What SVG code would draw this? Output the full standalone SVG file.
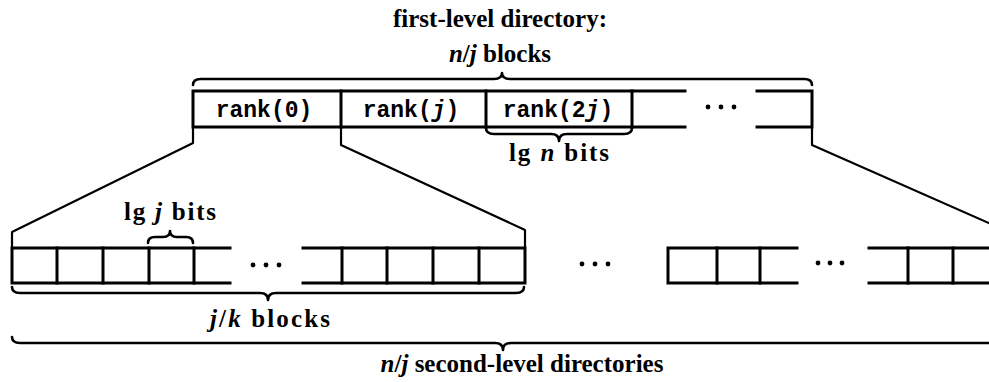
<svg xmlns="http://www.w3.org/2000/svg" width="989" height="382" viewBox="0 0 989 382">
  <style>
    .box { fill: none; stroke: #000; stroke-width: 3; stroke-linecap: square; }
    .brace { fill: none; stroke: #000; stroke-width: 2.6; stroke-linecap: round; stroke-linejoin: round; }
    .link { fill: none; stroke: #000; stroke-width: 2.2; stroke-linejoin: round; }
    .lbl { font-family: "Liberation Serif", "DejaVu Serif", serif; font-weight: bold; font-size: 25px; fill: #000; text-anchor: middle; }
    .tt { font-family: "Liberation Mono", "DejaVu Sans Mono", monospace; font-weight: bold; font-size: 23px; fill: #000; text-anchor: middle; }
    .it { font-style: italic; }
    .dot { fill: #000; }
  </style>

  <rect width="989" height="382" fill="#fff"/>

  <!-- first-level directory heading -->
  <g id="first-level-title">
    <text class="lbl" x="500" y="27">first-level directory:</text>
    <text class="lbl" x="500" y="62"><tspan class="it">n</tspan>/<tspan class="it">j</tspan> blocks</text>
    <path class="brace" d="M193,85 Q193,79 201,79 L494,79 Q502,79 502,73 Q502,79 510,79 L804,79 Q812,79 812,85"/>
  </g>

  <!-- first-level directory: row of rank entries -->
  <g id="first-level-directory">
    <path class="box" d="M685,91 L193,91 L193,127 L685,127"/>
    <path class="box" d="M341,91 L341,127 M486,91 L486,127 M632,91 L632,127"/>
    <path class="box" d="M757,91 L812,91 L812,127 L757,127"/>
    <text class="tt" x="264" y="117">rank(0)</text>
    <text class="tt" x="411" y="117">rank(<tspan class="it">j</tspan>)</text>
    <text class="tt" x="558" y="117">rank(2<tspan class="it">j</tspan>)</text>
    <circle class="dot" cx="708" cy="107" r="2.4"/>
    <circle class="dot" cx="721" cy="107" r="2.4"/>
    <circle class="dot" cx="734" cy="107" r="2.4"/>
  </g>

  <!-- width of one first-level entry -->
  <g id="lg-n-bits">
    <path class="brace" d="M486,128 Q486,134 494,134 L551,134 Q559,134 559,141 Q559,134 567,134 L624,134 Q632,134 632,128"/>
    <text class="lbl" x="559" y="161" textLength="100">lg <tspan class="it">n</tspan> bits</text>
  </g>

  <!-- second-level directory for rank(0) -->
  <g id="second-level-0">
    <path class="box" d="M230,248 L12,248 L12,283 L230,283"/>
    <path class="box" d="M57,248 L57,283 M103,248 L103,283 M149,248 L149,283 M194,248 L194,283"/>
    <circle class="dot" cx="253" cy="265" r="2.4"/>
    <circle class="dot" cx="266" cy="265" r="2.4"/>
    <circle class="dot" cx="279" cy="265" r="2.4"/>
    <path class="box" d="M303,248 L525,248 L525,283 L303,283"/>
    <path class="box" d="M342,248 L342,283 M387,248 L387,283 M433,248 L433,283 M479,248 L479,283"/>
  </g>

  <!-- width of one second-level entry -->
  <g id="lg-j-bits">
    <text class="lbl" x="170" y="220" textLength="92">lg <tspan class="it">j</tspan> bits</text>
    <path class="brace" d="M148,243 Q148,237 155,237 L163,237 Q170,237 170,231 Q170,237 177,237 L186,237 Q193,237 193,243"/>
  </g>

  <!-- entries of one second-level directory -->
  <g id="j-k-blocks">
    <path class="brace" d="M12,287 Q12,293 20,293 L260,293 Q268,293 268,300 Q268,293 276,293 L516,293 Q524,293 524,287"/>
    <text class="lbl" x="270" y="327" textLength="120"><tspan class="it">j</tspan>/<tspan class="it">k</tspan> blocks</text>
  </g>

  <!-- gap between second-level directories -->
  <g id="gap-dots">
    <circle class="dot" cx="582" cy="264" r="2.4"/>
    <circle class="dot" cx="595" cy="264" r="2.4"/>
    <circle class="dot" cx="608" cy="264" r="2.4"/>
  </g>

  <!-- last second-level directory -->
  <g id="second-level-last">
    <path class="box" d="M797,248 L668,248 L668,283 L797,283"/>
    <path class="box" d="M717,248 L717,283 M760,248 L760,283"/>
    <circle class="dot" cx="818" cy="263" r="2.4"/>
    <circle class="dot" cx="830" cy="263" r="2.4"/>
    <circle class="dot" cx="842" cy="263" r="2.4"/>
    <path class="box" d="M869,248 L995,248 M869,283 L995,283"/>
    <path class="box" d="M908,248 L908,283 M953,248 L953,283"/>
  </g>

  <!-- all second-level directories -->
  <g id="second-level-total">
    <path class="brace" d="M12,337 Q12,343 20,343 L495,343 Q503,343 503,350 Q503,343 511,343 L1000,343"/>
    <text class="lbl" x="522" y="372"><tspan class="it">n</tspan>/<tspan class="it">j</tspan> second-level directories</text>
  </g>

  <!-- expansion lines from first-level entries to their second-level directories -->
  <g id="connectors">
    <path class="link" d="M193,128 L193,143 L12,232 L12,247"/>
    <path class="link" d="M341,128 L341,145 L525,230 L525,247"/>
    <path class="link" d="M812,128 L812,145 L1000,228"/>
  </g>
</svg>
